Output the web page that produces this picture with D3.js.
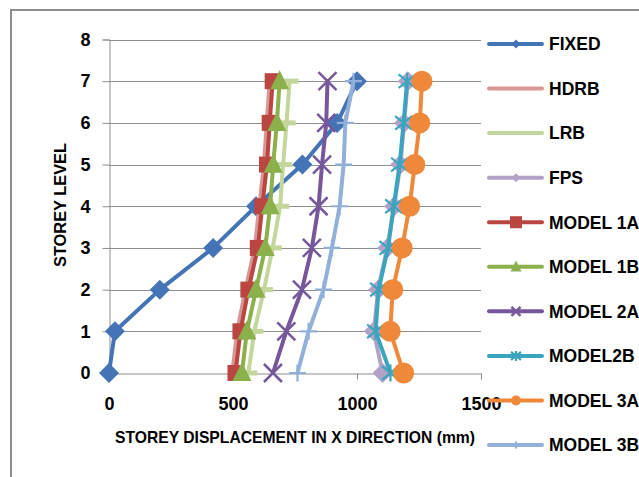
<!DOCTYPE html>
<html><head><meta charset="utf-8">
<script src="https://cdn.jsdelivr.net/npm/d3@7"></script>
<style>
html,body{margin:0;padding:0;background:#fff;overflow:hidden;}
text{font-family:"Liberation Sans",Arial,sans-serif;font-weight:bold;fill:#000;}
</style></head>
<body>
<svg id="c" width="639" height="477"></svg>
<script>
// ---- data ----
const levels = [0, 1, 2, 3, 4, 5, 6, 7];
const seriesNames = ["FIXED","HDRB","LRB","FPS","MODEL 1A","MODEL 1B","MODEL 2A","MODEL2B","MODEL 3A","MODEL 3B"];
const fixed   = [0, 24, 205, 420, 593, 780, 920, 1000];
const hdrb    = [497, 517, 550, 588, 606, 625, 636, 648];
const lrb     = [562, 586, 625, 660, 690, 702, 716, 728];
const fps     = [1103, 1068, 1085, 1122, 1150, 1175, 1190, 1205];
const model1a = [510, 530, 562, 600, 618, 637, 648, 660];
const model1b = [536, 556, 593, 630, 650, 662, 677, 688];
const model2a = [661, 715, 778, 818, 845, 859, 876, 881];
const model2b = [1135, 1075, 1087, 1125, 1148, 1172, 1188, 1202];
const model3a = [1188, 1134, 1144, 1182, 1212, 1233, 1253, 1262];
const model3b = [760, 805, 865, 899, 930, 946, 953, 986];
const xTicks = [0, 500, 1000, 1500];
const yTicks = [0, 1, 2, 3, 4, 5, 6, 7, 8];
const xTitle = "STOREY DISPLACEMENT IN X DIRECTION (mm)";
const yTitle = "STOREY LEVEL";

const seriesValues = [fixed, hdrb, lrb, fps, model1a, model1b, model2a, model2b, model3a, model3b];
const colors = ["#4574B6","#D99694","#C3D69B","#B3A2C7","#BA4541","#8AB14C","#76579B","#3BA4BF","#F0883A","#93B0DA"];
const markers = ["diamond","none","dash","diamond","square","triangle","x","star","circle","plus"];

const svg = d3.select("#c");
// chart border
svg.append("rect").attr("x",11).attr("y",10).attr("width",700).attr("height",520)
  .attr("fill","none").attr("stroke","#8C8C8C").attr("stroke-width",2);

const x = d3.scaleLinear().domain([0,1500]).range([109,481]);
const y = d3.scaleLinear().domain([0,8]).range([373,39.5]);

// gridlines
svg.append("g").selectAll("line").data(yTicks.filter(d=>d>0)).join("line")
  .attr("x1",x(0)).attr("x2",x(1500)).attr("y1",d=>Math.round(y(d))+0.5).attr("y2",d=>Math.round(y(d))+0.5)
  .attr("stroke","#8E8E8E").attr("stroke-width",1);

// axes
const xAxis = d3.axisBottom(x).tickValues(xTicks).tickSize(6).tickFormat(d3.format("d"));
const gx = svg.append("g").attr("transform",`translate(0,${Math.round(y(0))+0.5})`).call(xAxis);
gx.select(".domain").attr("stroke","#8E8E8E");
gx.selectAll(".tick line").attr("stroke","#8E8E8E");
gx.selectAll(".tick text").style("font-size","18px").attr("dy",0).attr("y",36);

const yAxis = d3.axisLeft(y).tickValues(yTicks).tickSize(7).tickPadding(12).tickFormat(d3.format("d"));
const gy = svg.append("g").attr("transform",`translate(${Math.round(x(0))+0.5},0)`).call(yAxis);
gy.select(".domain").attr("stroke","#8E8E8E");
gy.selectAll(".tick line").attr("stroke","#8E8E8E");
gy.selectAll(".tick text").style("font-size","18px");

// titles
svg.append("text").attr("x",295).attr("y",443).attr("text-anchor","middle")
  .style("font-size","17px").attr("textLength",360).attr("lengthAdjust","spacingAndGlyphs").text(xTitle);
svg.append("text").attr("transform","translate(66,205) rotate(-90)").attr("text-anchor","middle")
  .style("font-size","17px").attr("textLength",124).attr("lengthAdjust","spacingAndGlyphs").text(yTitle);

// marker drawing
function drawMarker(g, type, cx, cy, col, s) {
  switch(type){
    case "diamond":
      g.append("path").attr("d",`M${cx},${cy-s}L${cx+s},${cy}L${cx},${cy+s}L${cx-s},${cy}Z`).attr("fill",col);
      break;
    case "square":
      g.append("rect").attr("x",cx-s).attr("y",cy-s).attr("width",2*s).attr("height",2*s).attr("fill",col);
      break;
    case "triangle":
      g.append("path").attr("d",`M${cx},${cy-s*1.15}L${cx+s},${cy+s*0.85}L${cx-s},${cy+s*0.85}Z`).attr("fill",col);
      break;
    case "circle":
      g.append("circle").attr("cx",cx).attr("cy",cy).attr("r",s).attr("fill",col);
      break;
    case "x":
      g.append("path").attr("d",`M${cx-s},${cy-s}L${cx+s},${cy+s}M${cx-s},${cy+s}L${cx+s},${cy-s}`)
        .attr("stroke",col).attr("stroke-width",2.5).attr("fill","none");
      break;
    case "star":
      g.append("path").attr("d",`M${cx-s},${cy-s*0.8}L${cx+s},${cy+s*0.8}M${cx-s},${cy+s*0.8}L${cx+s},${cy-s*0.8}M${cx},${cy-s}L${cx},${cy+s}`)
        .attr("stroke",col).attr("stroke-width",2.2).attr("fill","none");
      break;
    case "plus":
      g.append("path").attr("d",`M${cx-s},${cy}L${cx+s},${cy}M${cx},${cy-s}L${cx},${cy+s}`)
        .attr("stroke",col).attr("stroke-width",2.2).attr("fill","none");
      break;
    case "dash":
      g.append("rect").attr("x",cx-s).attr("y",cy-2.5).attr("width",2*s).attr("height",5).attr("fill",col);
      break;
  }
}
const plotSize = {diamond:10, square:8, triangle:9.5, circle:10.5, x:9, star:8.5, plus:8.5, dash:9};
const legSize  = {diamond:4.5, square:6, triangle:5.5, circle:5, x:4.5, star:5, plus:3.5, dash:0};

const line = d3.line().x(d=>x(d[0])).y(d=>y(d[1]));
seriesValues.forEach((vals,i)=>{
  const g = svg.append("g");
  const pts = vals.map((v,j)=>[v,levels[j]]);
  g.append("path").attr("d",line(pts)).attr("fill","none").attr("stroke",colors[i])
    .attr("stroke-width",4).attr("stroke-linejoin","round").attr("stroke-linecap","round");
  if (markers[i] !== "none") pts.forEach(p=>drawMarker(g, markers[i], x(p[0]), y(p[1]), colors[i], plotSize[markers[i]]));
});

// legend
const legY = d3.scalePoint().domain(seriesNames).range([44,445]);
seriesNames.forEach((n,i)=>{
  const g = svg.append("g");
  const yy = legY(n);
  g.append("line").attr("x1",489).attr("x2",542).attr("y1",yy).attr("y2",yy)
    .attr("stroke",colors[i]).attr("stroke-width",4).attr("stroke-linecap","round");
  if (markers[i] !== "none" && markers[i] !== "dash") drawMarker(g, markers[i], 516, yy, colors[i], legSize[markers[i]]);
  g.append("text").attr("x",549).attr("y",yy).attr("dy","0.36em").style("font-size","17.5px").text(n);
});
</script>
</body></html>
